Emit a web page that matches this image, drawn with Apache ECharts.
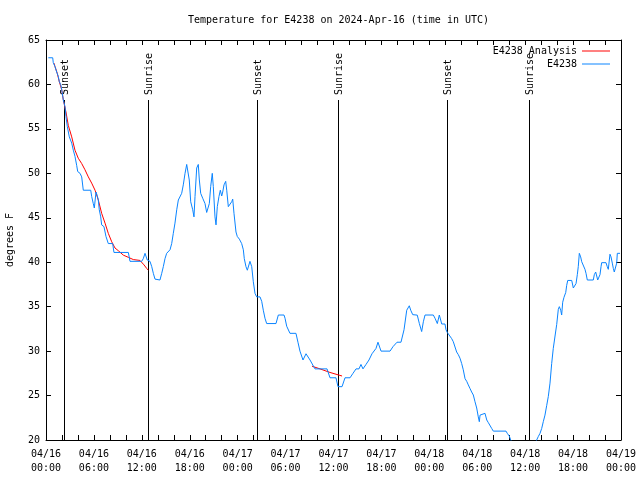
<!DOCTYPE html>
<html>
<head>
<meta charset="utf-8">
<script src="https://cdn.jsdelivr.net/npm/echarts/dist/echarts.min.js"></script>
<style>
html,body{margin:0;padding:0;background:#fff;}
#chart{width:640px;height:480px;}
</style>
</head>
<body>
<div id="chart"></div>
<script>
// ---- data (hours since 2024-04-16 00:00 UTC, temperature in degrees F) ----
const obsHours = [0.29,0.84,0.91,1.13,1.34,1.54,1.67,1.84,1.97,2.17,2.38,2.50,2.67,2.92,3.22,3.42,3.63,3.84,3.97,4.26,4.47,4.67,5.60,5.72,5.92,6.05,6.26,6.42,6.55,6.67,6.85,6.97,7.26,7.51,7.80,8.35,8.51,10.31,10.52,11.98,12.18,12.40,12.61,12.68,13.02,13.24,13.44,13.65,14.27,14.49,14.69,14.90,15.11,15.53,15.74,15.94,16.15,16.37,16.57,16.78,16.99,17.19,17.41,17.62,17.82,17.94,18.12,18.37,18.53,18.66,18.87,19.07,19.20,19.37,19.62,19.91,20.12,20.32,20.45,20.62,20.82,20.95,21.16,21.29,21.45,21.66,21.83,22.00,22.13,22.29,22.50,22.63,22.83,23.04,23.25,23.38,23.54,23.79,23.95,24.21,24.50,24.71,24.83,25.04,25.21,25.38,25.54,25.76,25.96,26.17,26.38,26.80,27.01,27.21,27.42,27.63,28.80,29.09,29.80,29.93,30.14,30.55,31.30,31.55,31.80,32.18,32.56,33.06,33.68,35.19,35.56,36.31,36.56,37.07,37.44,38.07,38.44,38.82,39.19,39.44,39.69,40.07,40.44,40.82,41.32,41.57,41.95,43.08,43.45,43.95,44.45,44.83,45.17,45.49,45.67,45.92,46.49,46.75,47.04,47.25,47.46,48.50,48.71,49.00,49.25,49.42,49.55,49.96,50.09,50.25,50.50,50.80,51.00,51.21,51.42,51.63,51.84,52.05,52.25,52.47,52.68,52.88,53.09,53.30,53.51,53.72,53.93,54.13,54.26,54.35,54.56,54.97,55.19,55.39,55.60,55.81,56.01,57.60,57.76,58.01,58.19,58.73,59.35,59.98,60.60,61.11,61.44,61.65,61.86,62.07,62.27,62.48,62.70,62.90,63.11,63.32,63.52,63.74,63.95,64.15,64.28,64.45,64.57,64.70,64.86,65.08,65.20,65.33,65.83,66.03,66.24,66.37,66.53,66.65,66.78,66.95,67.08,67.28,67.49,67.62,67.78,68.53,68.66,68.83,68.96,69.08,69.25,69.37,69.50,69.58,70.12,70.28,70.41,70.54,70.62,70.75,70.91,71.04,71.16,71.37,71.46,71.54,71.88];
const obsTempF = [63,63,62.45,62,61.4,60.9,60.3,60,59.4,58.25,57.5,56.4,55.25,54.1,53.4,52.6,51.9,50.9,50.2,50,49.6,48.1,48.1,47.4,46.6,46.1,47.9,47.5,47,45.9,45.1,44.2,44,42.9,42.1,42.1,41.1,41.1,40.1,40.1,40.4,41,41,40.25,40.1,39.5,38.75,38.1,38,38.75,39.5,40.4,41,41.4,42.1,43.25,44.4,45.9,47,47.1,47.75,48.7,50,51,51,49.25,46.8,45.9,45.1,47.4,50.6,51,49.25,47.75,47.2,46.6,45.6,45.6,46.6,48.5,50,48.5,45.1,44.2,46.25,47.4,48.1,47.45,47.9,48.7,49.1,48.1,46.25,46.25,46.8,47.1,45.5,43.4,42.9,42.6,42.1,41.4,40.4,39.5,39.1,39.1,40.1,39.5,37.8,36.5,36.1,36.1,35.6,34.6,33.7,33.1,33.1,34.06,34.06,33.7,32.8,32.0,32.0,31.0,30.0,29.0,29.7,29.0,28.0,28.0,27.0,27.0,26.0,26.0,27.0,27.0,27.5,28.0,28.0,28.5,28.0,28.5,29.0,29.7,30.3,31.0,30.0,30.0,30.5,31.0,31.0,32.4,34.6,35.1,34.6,34.1,34.05,33.1,32.2,33.3,34.06,34.06,33.7,33.1,34.06,33.5,33.05,33.05,32.4,32.1,32,31.4,31.06,30.9,29.9,29.6,29.2,28.6,27.9,26.9,26.6,26.2,25.8,25.4,25.06,24.3,23.6,22.6,22.06,22.8,23,23,22.25,21.95,21.8,21.3,21.0,21.0,20.75,20.45,20.0,19.2,18.5,18.2,18.5,19.3,20.0,20.4,20.75,21.3,22.06,22.8,23.9,24.9,26.4,28.6,30.3,31.7,33.0,34.7,35,34.6,34.06,35.5,36.05,36.6,37.4,37.95,37.95,37.1,36.95,37.6,38.6,39.5,41,40.6,40.06,39.95,39.2,38.75,38,38,38.6,38.9,38.45,38,38,38.6,39.5,39.95,39.95,39.5,39.2,40.25,40.9,40.6,39.9,39.3,38.9,38.9,39.9,41,41];

const anaHours1 = [1.00,1.13,1.41,1.67,1.97,2.17,2.50,2.79,3.22,3.63,4.04,4.47,4.88,5.30,5.72,6.14,6.55,6.97,7.39,7.80,8.23,8.64,9.05,9.68,10.31,10.93,11.77,11.98,12.27,12.61,12.81];
const anaTempF1 = [62.4,62,61.25,60.3,59.4,58.25,56.9,55.4,54.1,52.6,51.7,51.1,50.4,49.6,48.9,48.1,47,45.5,44.4,43.25,42.3,41.6,41.3,40.8,40.55,40.3,40.2,40.1,39.7,39.3,39.1];
const anaHours2 = [33.31,34.31,35.56,37.07];
const anaTempF2 = [28.3,28.0,27.6,27.2];

const sunHours = [2.29,12.71,26.36,36.62,50.21,60.48];
const sunLabels = ['Sunset','Sunrise','Sunset','Sunrise','Sunset','Sunrise'];

const xTickLabels = ['04/16\n00:00','04/16\n06:00','04/16\n12:00','04/16\n18:00','04/17\n00:00','04/17\n06:00','04/17\n12:00','04/17\n18:00','04/18\n00:00','04/18\n06:00','04/18\n12:00','04/18\n18:00','04/19\n00:00'];
const yMin = 20, yMax = 65, yStep = 5;

const titleText = 'Temperature for E4238 on 2024-Apr-16 (time in UTC)';
const obsName = 'E4238';
const anaName = 'E4238 Analysis';

// ---- chart ----
const FONT = 'DejaVu Sans Mono';
const zip = (xs, ys) => xs.map((x, i) => [x, ys[i]]);

const chart = echarts.init(document.getElementById('chart'), null, {renderer: 'canvas'});
const axisCommon = {
  type: 'value',
  axisLine: {show: true, onZero: false, lineStyle: {color: '#000', width: 1}},
  axisTick: {show: true, inside: true, length: 5, lineStyle: {color: '#000', width: 1}},
  splitLine: {show: false}
};
chart.setOption({
  animation: false,
  backgroundColor: '#fff',
  title: {
    text: titleText, left: 183, top: 10,
    textStyle: {fontFamily: FONT, fontSize: 10, fontWeight: 'normal', color: '#000'}
  },
  legend: {
    orient: 'vertical', align: 'right', right: 25, top: 40,
    itemWidth: 28, itemHeight: 1, itemGap: 1, selectedMode: false,
    textStyle: {fontFamily: FONT, fontSize: 10, color: '#000', lineHeight: 12},
    data: [{name: anaName, icon: 'rect'}, {name: obsName, icon: 'rect'}]
  },
  grid: {left: 46, right: 19, top: 40, bottom: 40, containLabel: false, outerBoundsMode: 'none'},
  xAxis: [
    Object.assign({}, axisCommon, {
      position: 'bottom', min: 0, max: 72, interval: 2,
      axisLabel: {
        fontFamily: FONT, fontSize: 10, color: '#000', lineHeight: 14, margin: 7,
        formatter: v => (Math.round(v) % 6 === 0 ? xTickLabels[Math.round(v) / 6] : '')
      }
    }),
    Object.assign({}, axisCommon, {
      position: 'top', min: 0, max: 72, interval: 2, axisLabel: {show: false}
    })
  ],
  yAxis: [
    Object.assign({}, axisCommon, {
      position: 'left', min: yMin, max: yMax, interval: yStep,
      name: 'degrees F', nameLocation: 'middle', nameRotate: 90, nameGap: 31,
      nameTextStyle: {fontFamily: FONT, fontSize: 10, color: '#000'},
      axisLabel: {fontFamily: FONT, fontSize: 10, color: '#000', margin: 6}
    }),
    Object.assign({}, axisCommon, {
      position: 'right', min: yMin, max: yMax, interval: yStep, axisLabel: {show: false}
    })
  ],
  series: [
    {
      type: 'custom', name: 'sun', silent: true, clip: false,
      xAxisIndex: 0, yAxisIndex: 0,
      data: sunHours.map(h => [h, yMin]),
      encode: {x: 0, y: 1},
      renderItem: function (params, api) {
        const h = api.value(0);
        const bot = api.coord([h, yMin]);
        const top = api.coord([h, yMax]);
        const lx = Math.round(bot[0]) + 0.5;
        return {
          type: 'group',
          children: [
            {type: 'line', shape: {x1: lx, y1: bot[1], x2: lx, y2: top[1] + 60},
             style: {stroke: '#000', lineWidth: 1}},
            {type: 'text', x: lx + 1, y: top[1] + 55, rotation: Math.PI / 2,
             style: {text: sunLabels[params.dataIndex], font: '10px ' + FONT, fill: '#000',
                     align: 'left', verticalAlign: 'middle'}}
          ]
        };
      }
    },
    {
      type: 'line', name: anaName, data: zip(anaHours1, anaTempF1),
      showSymbol: false, symbol: 'none', color: '#ff0000',
      lineStyle: {width: 1, color: '#ff0000'}
    },
    {
      type: 'line', name: anaName, data: zip(anaHours2, anaTempF2),
      showSymbol: false, symbol: 'none', color: '#ff0000',
      lineStyle: {width: 1, color: '#ff0000'}
    },
    {
      type: 'line', name: obsName, data: zip(obsHours, obsTempF),
      showSymbol: false, symbol: 'none', color: '#0a84ff', clip: true,
      lineStyle: {width: 1, color: '#0a84ff'}
    }
  ]
});
</script>
</body>
</html>
